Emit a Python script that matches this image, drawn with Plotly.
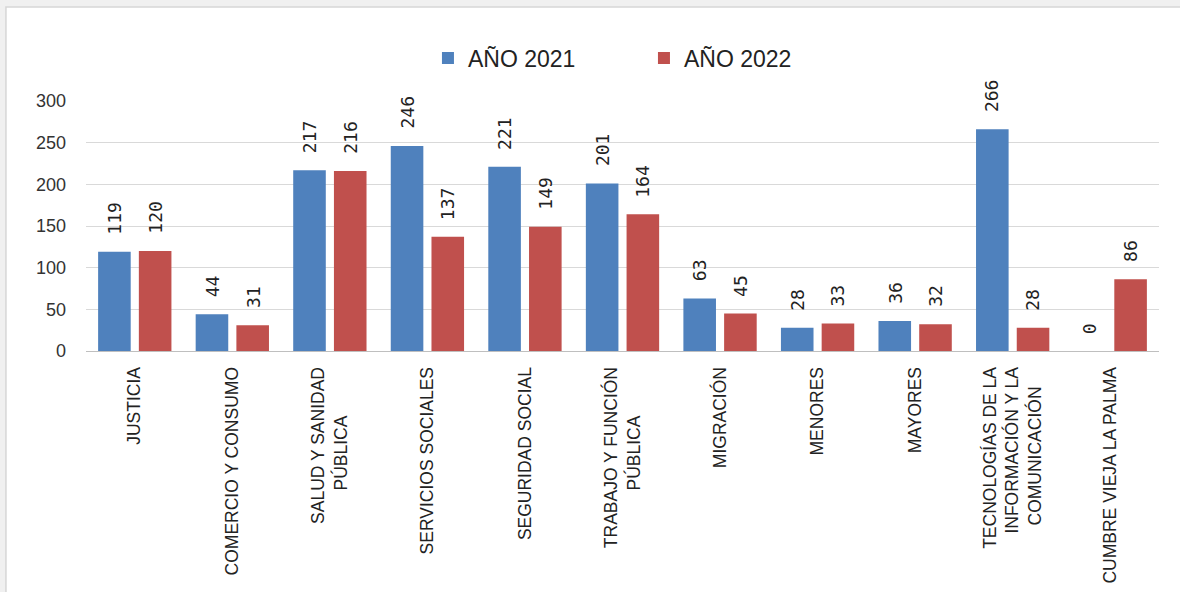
import plotly.graph_objects as go

# Espacios finos al final de las líneas cortas para centrarlas bajo la primera
NB = "\u00a0"

# Expedientes por materia, comparativa 2021 / 2022
categorias = [
    "JUSTICIA",
    "COMERCIO Y CONSUMO",
    "SALUD Y SANIDAD<br>PÚBLICA" + NB * 10,
    "SERVICIOS SOCIALES",
    "SEGURIDAD SOCIAL",
    "TRABAJO Y FUNCIÓN<br>PÚBLICA" + NB * 10,
    "MIGRACIÓN",
    "MENORES",
    "MAYORES",
    "TECNOLOGÍAS DE LA<br>INFORMACIÓN Y LA<br>COMUNICACIÓN" + NB * 4,
    "CUMBRE VIEJA LA PALMA",
]
anio_2021 = [119, 44, 217, 246, 221, 201, 63, 28, 36, 266, 0]
anio_2022 = [120, 31, 216, 137, 149, 164, 45, 33, 32, 28, 86]
ticks_y = [0, 50, 100, 150, 200, 250, 300]

series = [
    ("AÑO 2021", anio_2021, "#4F81BD", -20.4),
    ("AÑO 2022", anio_2022, "#C0504D", 20.4),
]

fig = go.Figure()
for nombre, valores, color, _ in series:
    fig.add_trace(go.Bar(
        x=categorias, y=valores, name=nombre,
        marker=dict(color=color, line=dict(width=0)),
        hoverinfo="skip",
    ))

# Etiquetas de valor verticales sobre cada barra
anotaciones = []
for nombre, valores, color, desplazamiento in series:
    for cat, v in zip(categorias, valores):
        anotaciones.append(dict(
            x=cat, y=v, xref="x", yref="y",
            text=str(v), showarrow=False, textangle=-90,
            xanchor="center", yanchor="bottom",
            xshift=desplazamiento, yshift=15,
            font=dict(family="DejaVu Sans Mono", size=18, color="#222222"),
        ))

fig.update_layout(
    width=1180, height=592, autosize=False,
    margin=dict(l=86, r=21, t=101, b=241, pad=0),
    paper_bgcolor="#f0f0f0",
    plot_bgcolor="rgba(0,0,0,0)",
    barmode="group", bargap=0.165, bargroupgap=0.2,
    showlegend=True,
    legend=dict(
        orientation="h", x=0.52, xanchor="center", y=1.172, yanchor="middle",
        font=dict(family="Liberation Sans, Arial", size=23, color="#222222"),
        entrywidth=171, itemwidth=30, bgcolor="rgba(0,0,0,0)",
    ),
    annotations=anotaciones,
    shapes=[dict(
        type="rect", xref="paper", yref="paper",
        x0=-0.0746, x1=1.04, y0=-1.05, y1=1.376,
        fillcolor="white", line=dict(color="#d6d6d6", width=1.5),
        layer="below",
    )],
    xaxis=dict(
        tickangle=-90, showgrid=False, showline=True, linecolor="#bfbfbf",
        linewidth=1, ticks="", ticklabelstandoff=8, automargin=False,
        tickfont=dict(family="Liberation Sans Narrow, Arial Narrow, Liberation Sans", size=17.5, color="#222222"),
    ),
    yaxis=dict(
        range=[0, 300], tickvals=ticks_y, showgrid=True, gridcolor="#d9d9d9",
        gridwidth=1, zeroline=False, showline=False, ticks="",
        ticklabelstandoff=19, automargin=False,
        tickfont=dict(family="Liberation Sans, Arial", size=18, color="#333333"),
    ),
)

fig.write_html("out.html")
